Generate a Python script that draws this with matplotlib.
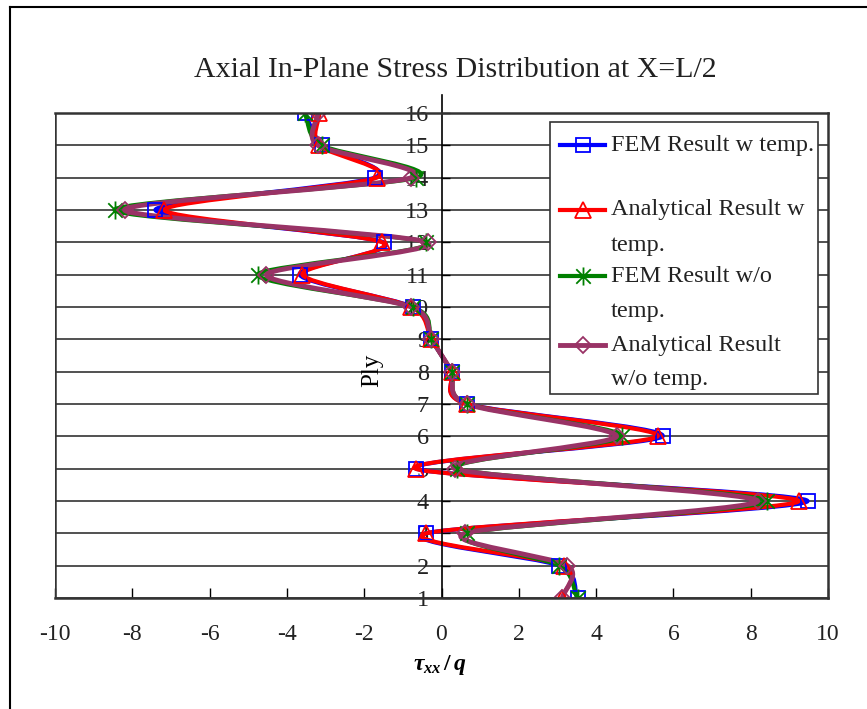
import numpy as np
import matplotlib.pyplot as plt
from matplotlib.path import Path
from matplotlib.patches import PathPatch, Rectangle
from matplotlib.lines import Line2D

plt.rcParams['font.family'] = ['Liberation Serif', 'DejaVu Serif']
plt.rcParams['axes.unicode_minus'] = False
plt.rcParams['mathtext.fontset'] = 'custom'
plt.rcParams['mathtext.rm'] = 'Liberation Serif:bold'
plt.rcParams['mathtext.it'] = 'Liberation Serif:italic:bold'
plt.rcParams['mathtext.bf'] = 'Liberation Serif:bold'

# ply number and normalised axial stress tau_xx / q at X = L/2
ply = np.arange(1, 17)
fem_w = [3.52, 3.05, -0.39, 9.47, -0.65, 5.72, 0.67, 0.26, -0.26, -0.75,
         -3.67, -1.50, -7.40, -1.73, -3.08, -3.54]
ana_w = [3.13, 3.18, -0.39, 9.24, -0.67, 5.59, 0.65, 0.26, -0.26, -0.78,
         -3.60, -1.53, -7.17, -1.68, -3.18, -3.16]
fem_wo = [3.52, 3.05, 0.67, 8.43, 0.41, 4.68, 0.67, 0.26, -0.26, -0.75,
          -4.76, -0.39, -8.46, -0.65, -3.10, -3.54]
ana_wo = [3.13, 3.26, 0.60, 8.18, 0.34, 4.53, 0.65, 0.26, -0.26, -0.78,
          -4.53, -0.36, -8.20, -0.78, -3.20, -3.20]

labels = ["FEM Result w temp.\n", "Analytical Result w\ntemp.",
          "FEM Result w/o\ntemp.", "Analytical Result\nw/o temp."]

# star marker: an X with a vertical bar through it
star = Path([(0, -1), (0, 1), (-0.8, -0.8), (0.8, 0.8), (-0.8, 0.8), (0.8, -0.8)],
            [Path.MOVETO, Path.LINETO] * 3)

colors = ['#0000FF', '#FF0000', '#008000', '#993366']
markers = ['s', '^', star, 'D']
msizes = [10.5, 11.5, 13, 8.5]
widths = [3.0, 3.0, 3.0, 3.5]
series = [fem_w, ana_w, fem_wo, ana_wo]


def smooth_path(xs, ys, k=0.28):
    # cardinal spline through the points, written as cubic Bezier segments
    pts = np.column_stack([xs, ys]).astype(float)
    n = len(pts)
    tang = np.zeros_like(pts)
    tang[1:-1] = (pts[2:] - pts[:-2]) / 2.0
    tang[0] = pts[1] - pts[0]
    tang[-1] = pts[-1] - pts[-2]
    verts = [pts[0]]
    codes = [Path.MOVETO]
    for i in range(n - 1):
        verts += [pts[i] + tang[i] * k, pts[i + 1] - tang[i + 1] * k, pts[i + 1]]
        codes += [Path.CURVE4] * 3
    return Path(verts, codes)


fig = plt.figure(figsize=(8.67, 7.09), dpi=100)

# outer chart border (only left and top fall inside the image)
fig.add_artist(Line2D([10 / 867, 10 / 867], [0, 1 - 7 / 709], color='black', lw=1.5))
fig.add_artist(Line2D([10 / 867, 1], [1 - 7 / 709, 1 - 7 / 709], color='black', lw=1.5))

ax = fig.add_axes([55 / 867, 1 - 598 / 709, 773 / 867, 485 / 709])
ax.set_xlim(-10, 10)
ax.set_ylim(1, 16)

for vals, c, m, ms, lw in zip(series, colors, markers, msizes, widths):
    ax.add_patch(PathPatch(smooth_path(vals, ply), facecolor='none', edgecolor=c,
                           lw=lw, capstyle='round', joinstyle='round'))
    ax.plot(vals, ply, linestyle='none', marker=m, markersize=ms,
            markerfacecolor='none', markeredgecolor=c, markeredgewidth=1.3)

# vertical axis crosses at zero, frame kept on the left edge
ax.spines['left'].set_position(('data', 0))
ax.spines['left'].set_bounds(1, 16.55)
ax.spines['left'].set_color('black')
ax.spines['left'].set_linewidth(1.2)
ax.axvline(-10, color='#333333', lw=1.8)
for s in ['top', 'right', 'bottom']:
    ax.spines[s].set_color('#333333')
    ax.spines[s].set_linewidth(1.8)

ax.set_xticks(np.arange(-10, 11, 2))
ax.set_yticks(ply)
ax.yaxis.grid(True, color='#333333', lw=1.2)
ax.set_axisbelow(True)
ax.tick_params(axis='x', direction='in', length=7, width=1, pad=19, labelsize=17)
ax.tick_params(axis='y', direction='in', length=6, width=1, pad=9, labelsize=17.5)
for t in ax.get_xticklabels() + ax.get_yticklabels():
    t.set_color('#222222')

ax.text(0.41, 0.47, 'Ply', transform=ax.transAxes, rotation=90,
        ha='center', va='center', fontsize=18)
fig.text(440 / 867, 1 - 665 / 709, r'$\tau_{xx}\,/\,q$', ha='center', va='center',
         fontsize=17)
fig.text(455 / 867, 1 - 70 / 709, 'Axial In-Plane Stress Distribution at X=L/2',
         ha='center', va='center', fontsize=21.5, color='#222222')

# legend box drawn by hand so each handle sits on the first line of its label
ax.add_patch(Rectangle((0.640, 0.421), 0.347, 0.560, transform=ax.transAxes,
                       facecolor='white', edgecolor='#333333', lw=1.2, zorder=5,
                       clip_on=False))
px_x = lambda p: (p - 55) / 773
px_y = lambda p: (598 - p) / 485
entry_y = [145, 210, 276, 345]
for lab, c, m, ms, lw, yy in zip(labels, colors, markers, msizes, widths, entry_y):
    ax.add_artist(Line2D([px_x(560), px_x(605)], [px_y(yy), px_y(yy)], color=c,
                         lw=lw, transform=ax.transAxes, zorder=6, clip_on=False))
    ax.add_artist(Line2D([px_x(583)], [px_y(yy)], marker=m, markersize=ms,
                         markerfacecolor='none', markeredgecolor=c, markeredgewidth=1.3,
                         transform=ax.transAxes, zorder=7, clip_on=False))
    for k, line in enumerate(lab.split('\n')):
        ax.text(px_x(611), px_y(yy + 35 * k), line, transform=ax.transAxes,
                ha='left', va='center', fontsize=17.5, color='#222222', zorder=7)

fig.savefig('out.png', dpi=100)
